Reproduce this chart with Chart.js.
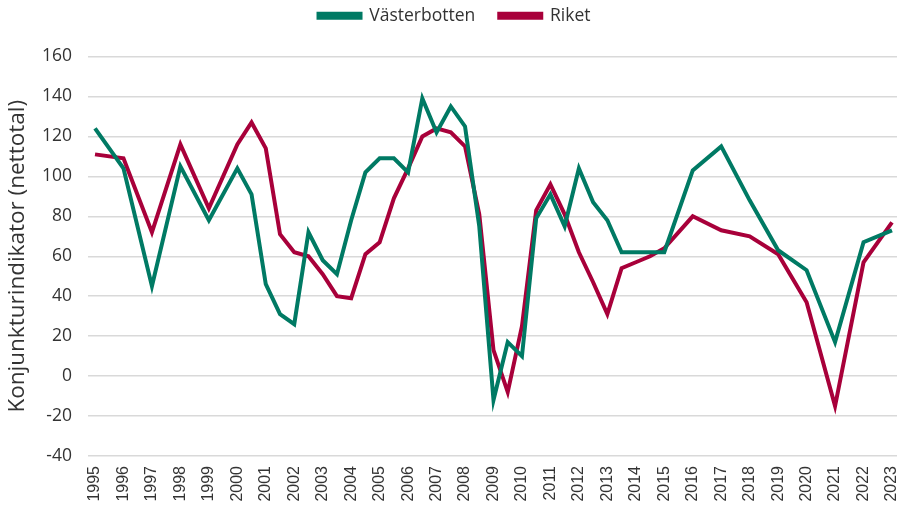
<!DOCTYPE html>
<html>
<head>
<meta charset="utf-8">
<script src="https://cdn.jsdelivr.net/npm/chart.js@4"></script>
<style>
  html, body { margin: 0; padding: 0; background: #fff; }
  #wrap { width: 897px; height: 513px; }
</style>
</head>
<body>
<div id="wrap"><canvas id="c"></canvas></div>
<script>
// Konjunkturindikator, Västerbotten vs Riket. Half-yearly readings 2000–2015,
// yearly otherwise, so the x axis is linear in years.
const periods = [
  1995, 1996, 1997, 1998, 1999, 2000, 2000.5, 2001, 2001.5, 2002, 2002.5,
  2003, 2003.5, 2004, 2004.5, 2005, 2005.5, 2006, 2006.5, 2007, 2007.5,
  2008, 2008.5, 2009, 2009.5, 2010, 2010.5, 2011, 2011.5, 2012, 2012.5,
  2013, 2013.5, 2014, 2014.5, 2015, 2016, 2017, 2018, 2019, 2020, 2021,
  2022, 2023
]
const vasterbotten = [
  124, 104, 45, 105, 78, 104, 91, 46, 31, 26, 72,
  58, 51, 78, 102, 109, 109, 102, 139, 122, 135,
  125, 75, -12, 17, 10, 79, 91, 75, 104, 87,
  78, 62, 62, 62, 62, 103, 115, 88, 63, 53, 17,
  67, 73
]
const riket = [
  111, 109, 72, 116, 84, 116, 127, 114, 71, 62, 60,
  51, 40, 39, 61, 67, 89, 104, 120, 124, 122,
  115, 81, 13, -8, 25, 83, 96, 81, 62, 47,
  31, 54, 57, 60, 64, 80, 73, 70, 61, 37, -15,
  57, 77
]
const yearTicks = [
  1995, 1996, 1997, 1998, 1999, 2000, 2001, 2002, 2003, 2004, 2005, 2006,
  2007, 2008, 2009, 2010, 2011, 2012, 2013, 2014, 2015, 2016, 2017, 2018,
  2019, 2020, 2021, 2022, 2023
]

const GREEN = "#007a64"
const RED   = "#a8003a"

const toPoints = (vals) => vals.map((v, i) => ({ x: periods[i], y: v }))

// wide item spacing in the legend without pushing it down,
// and a fixed gap between legend and plot
const legendTweak = {
  id: "legendTweak",
  beforeInit(chart) {
    const legend = chart.legend
    const fit = legend.fit
    legend.fit = function () {
      fit.call(this)
      this.height += 5
    }
    const draw = legend.draw
    legend.draw = function (...args) {
      this.ctx.save()
      this.ctx.translate(6, -17)
      draw.apply(this, args)
      this.ctx.restore()
    }
  }
}

new Chart(document.getElementById("c"), {
  type: "line",
  data: {
    datasets: [
      { label: "Västerbotten", data: toPoints(vasterbotten), borderColor: GREEN, backgroundColor: GREEN },
      { label: "Riket",        data: toPoints(riket),        borderColor: RED,   backgroundColor: RED }
    ]
  },
  plugins: [legendTweak],
  options: {
    responsive: true,
    maintainAspectRatio: false,
    animation: false,
    elements: {
      line:  { borderWidth: 4, tension: 0 },
      point: { radius: 0 }
    },
    plugins: {
      tooltip: { enabled: false },
      legend: {
        position: "top",
        labels: {
          boxWidth: 42,
          boxHeight: 4,
          padding: 24,
          color: "#333",
          font: { family: "Open Sans", size: 17.5 }
        }
      }
    },
    scales: {
      x: {
        type: "linear",
        min: 1994.754,
        max: 2023.176,
        afterBuildTicks: (scale) => { scale.ticks = yearTicks.map(v => ({ value: v })) },
        afterFit: (scale) => {
          scale.height = 57
          scale.paddingLeft = 0
          scale.paddingRight = 0
        },
        grid: { display: false },
        border: { display: false },
        ticks: {
          autoSkip: false,
          minRotation: 90,
          maxRotation: 90,
          padding: 2,
          color: "#333",
          font: { family: "Liberation Sans", size: 16 },
          callback: (v) => String(v)
        }
      },
      y: {
        min: -40,
        max: 160,
        afterFit: (scale) => { scale.width = 88 },
        grid: { color: "#d9d9d9", lineWidth: 1.5, drawTicks: false },
        border: { display: false },
        ticks: {
          stepSize: 20,
          padding: 16,
          color: "#333",
          font: { family: "Open Sans", size: 17.5 }
        },
        title: {
          display: true,
          text: "Konjunkturindikator (nettotal)",
          color: "#333",
          padding: { top: 4, bottom: 0 },
          font: { family: "Open Sans", size: 22.5 }
        }
      }
    }
  }
})
</script>
</body>
</html>
